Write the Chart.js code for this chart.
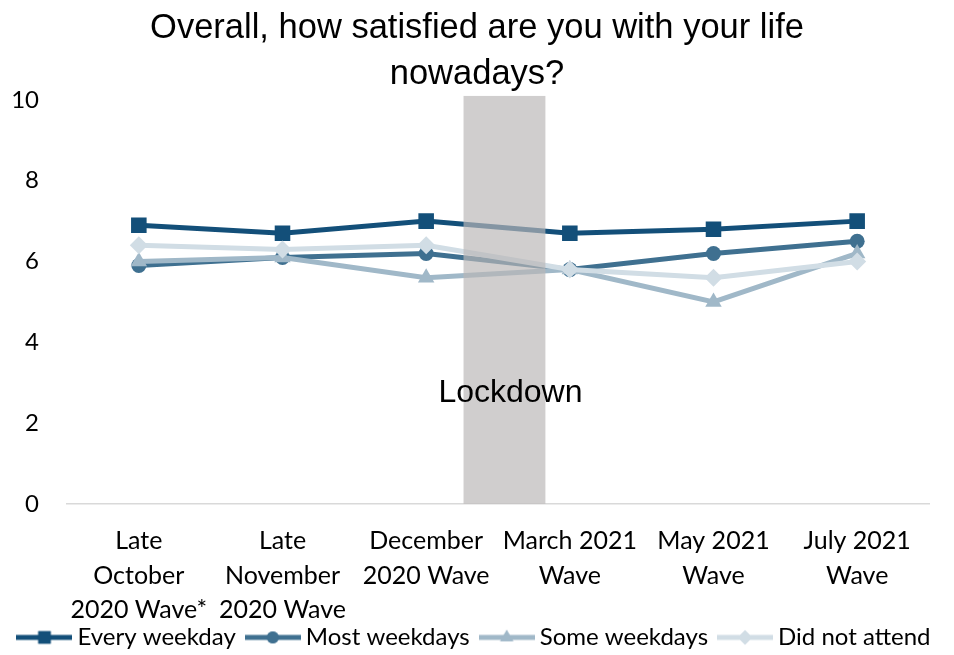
<!DOCTYPE html>
<html>
<head>
<meta charset="utf-8">
<script src="https://cdn.jsdelivr.net/npm/chart.js@4/dist/chart.umd.min.js"></script>
<style>
  html, body { margin: 0; padding: 0; background: #fff; }
  #wrap { width: 954px; height: 655px; }
</style>
</head>
<body>
<div id="wrap"><canvas id="myChart" width="954" height="655"></canvas></div>
<script>
// data
const waves = [
  ['Late', 'October', '2020 Wave*'],
  ['Late', 'November', '2020 Wave'],
  ['December', '2020 Wave'],
  ['March 2021', 'Wave'],
  ['May 2021', 'Wave'],
  ['July 2021', 'Wave']
];
const everyWeekday = [6.9, 6.7, 7.0, 6.7, 6.8, 7.0];
const mostWeekdays = [5.9, 6.1, 6.2, 5.8, 6.2, 6.5];
const someWeekdays = [6.0, 6.1, 5.6, 5.8, 5.0, 6.2];
const didNotAttend = [6.4, 6.3, 6.4, 5.8, 5.6, 6.0];
const yTicks = [0, 2, 4, 6, 8, 10];
// lockdown band, in category units
const lockdownFrom = 2.26;
const lockdownTo = 2.83;

const colors = ['#134f79', '#3f7090', '#a0b8c8', '#d1dde5'];
const styles = ['rect', 'circle', 'triangle', 'rectRot'];
const radii = [11, 7.5, 9.5, 9];

// legend swatch: line with marker in the middle
function swatch(i) {
  const c = document.createElement('canvas');
  c.width = 56; c.height = 20;
  const ctx = c.getContext('2d');
  ctx.strokeStyle = colors[i];
  ctx.fillStyle = colors[i];
  ctx.lineWidth = 5;
  ctx.beginPath();
  ctx.moveTo(0, 10); ctx.lineTo(56, 10);
  ctx.stroke();
  Chart.helpers.drawPoint(ctx, { pointStyle: styles[i], radius: radii[i] * 0.8, rotation: 0, borderWidth: 0 }, 28, 10);
  ctx.fill();
  return c;
}

function ds(label, data, i) {
  return {
    label: label,
    data: data,
    order: 3 - i,
    borderColor: colors[i],
    backgroundColor: colors[i],
    borderWidth: 5,
    pointStyle: styles[i],
    pointRadius: radii[i],
    pointHoverRadius: radii[i],
    pointBorderWidth: 0,
    tension: 0,
    legendSwatch: swatch(i)
  };
}

const lockdownPlugin = {
  id: 'lockdown',
  afterLayout(chart) {
    // let the axis labels spill out of their (shrunk) boxes without clipping
    chart.scales.x.bottom = chart.height;
    chart.scales.y.left = 0;
  },
  afterDatasetsDraw(chart) {
    const ctx = chart.ctx;
    const x = chart.scales.x, y = chart.scales.y;
    const x0 = x.getPixelForValue(lockdownFrom);
    const x1 = x.getPixelForValue(lockdownTo);
    const top = y.getPixelForValue(10.1);
    const bottom = y.getPixelForValue(0);
    ctx.save();
    ctx.fillStyle = 'rgba(186,183,183,0.68)';
    ctx.fillRect(x0, top, x1 - x0, bottom - top);
    ctx.fillStyle = '#000';
    ctx.font = '32px "Liberation Sans", Arial, sans-serif';
    ctx.textAlign = 'center';
    ctx.textBaseline = 'middle';
    ctx.fillText('Lockdown', (x0 + x1) / 2 + 6, y.getPixelForValue(2.75));
    ctx.restore();
  }
};

const data = {
  labels: waves,
  datasets: [
    ds('Every weekday', everyWeekday, 0),
    ds('Most weekdays', mostWeekdays, 1),
    ds('Some weekdays', someWeekdays, 2),
    ds('Did not attend', didNotAttend, 3)
  ]
};

const config = {
  type: 'line',
  data: data,
  options: {
    responsive: false,
    animation: false,
    layout: { padding: { left: 5, right: 5, top: 0, bottom: -4.4 } },
    plugins: {
      title: {
        display: true,
        text: ['Overall, how satisfied are you with your life', 'nowadays?'],
        color: '#000',
        font: { family: '"Liberation Sans", Arial, sans-serif', size: 34.5, weight: 'normal', lineHeight: 1.362 },
        padding: { top: 4.5, bottom: 1.5 }
      },
      legend: {
        position: 'bottom',
        labels: {
          color: '#000',
          font: { family: 'Lato, "Liberation Sans", sans-serif', size: 24 },
          usePointStyle: true,
          pointStyleWidth: 42,
          boxHeight: 20,
          padding: 16,
          generateLabels(chart) {
            return chart.data.datasets.map((d, i) => ({
              text: d.label,
              pointStyle: d.legendSwatch,
              fillStyle: d.borderColor,
              strokeStyle: d.borderColor,
              lineWidth: 0,
              hidden: false,
              datasetIndex: i,
              fontColor: '#000'
            }));
          }
        }
      },
      tooltip: { enabled: false }
    },
    scales: {
      x: {
        offset: true,
        grid: { display: false, drawTicks: false, offset: true },
        border: { display: true, color: '#d9d9d9', width: 1.5 },
        ticks: {
          color: '#000',
          maxRotation: 0,
          autoSkip: false,
          padding: 20,
          font: { family: 'Lato, "Liberation Sans", sans-serif', size: 25, lineHeight: 1.38 }
        },
        afterFit(scale) {
          scale.paddingLeft = 0;
          scale.paddingRight = 25;
          scale.height = 105.6;
        }
      },
      y: {
        min: 0,
        max: 10,
        afterBuildTicks(scale) { scale.ticks = yTicks.map(v => ({ value: v })); },
        grid: { display: false, drawTicks: false },
        border: { display: false },
        ticks: {
          color: '#000',
          padding: 28,
          font: { family: 'Lato, "Liberation Sans", sans-serif', size: 24 }
        },
        afterFit(scale) { scale.width = 62; }
      }
    }
  },
  plugins: [lockdownPlugin]
};

const myChart = new Chart(document.getElementById('myChart'), config);
</script>
</body>
</html>
